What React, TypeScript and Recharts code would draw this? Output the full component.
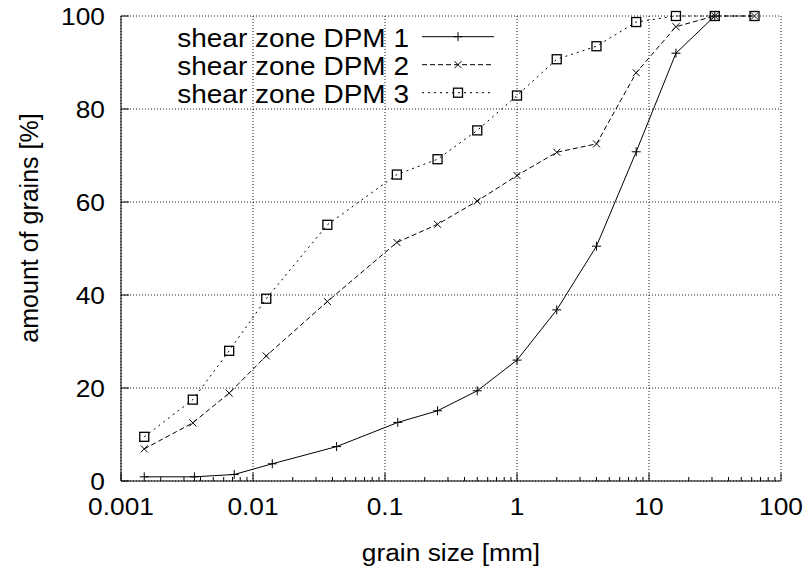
import React from "react";
import { LineChart, Line, XAxis, YAxis, CartesianGrid, Legend } from "recharts";

// grain size [mm] vs. cumulative amount [%]
const sizesDpm1 = [0.0015, 0.0036, 0.0072, 0.014, 0.043, 0.125, 0.25, 0.5, 1, 2, 4, 8, 16, 31.5];
const amountDpm1 = [0.9, 0.9, 1.4, 3.7, 7.4, 12.6, 15.1, 19.4, 26.0, 36.8, 50.5, 70.8, 92.0, 100];

const sizesDpm23 = [0.0015, 0.0035, 0.0066, 0.0126, 0.0366, 0.123, 0.25, 0.5, 1, 2, 4, 8, 16, 31.5, 63];
const amountDpm2 = [6.9, 12.5, 18.9, 26.9, 38.6, 51.3, 55.2, 60.2, 65.7, 70.7, 72.5, 87.8, 97.7, 100, 100];
const amountDpm3 = [9.5, 17.5, 28.0, 39.2, 55.1, 65.9, 69.2, 75.4, 82.9, 90.7, 93.5, 98.7, 100, 100, 100];

const seriesNames = ["shear zone DPM 1", "shear zone DPM 2", "shear zone DPM 3"];

const majorX = [0.001, 0.01, 0.1, 1, 10, 100];
const majorXLabels = ["0.001", "0.01", "0.1", "1", "10", "100"];
const minorSteps = [2, 3, 4, 5, 6, 7, 8, 9];
const yTicks = [0, 20, 40, 60, 80, 100];

const allX = majorX.concat(
  majorX.slice(0, -1).flatMap((d) => minorSteps.map((m) => +(d * m).toPrecision(3)))
);

const toPoints = (xs: number[], ys: number[]) => xs.map((x, i) => ({ x, y: ys[i] }));
const dpm1 = toPoints(sizesDpm1, amountDpm1);
const dpm2 = toPoints(sizesDpm23, amountDpm2);
const dpm3 = toPoints(sizesDpm23, amountDpm3);

const FONT = '"Liberation Sans", Arial, Helvetica, sans-serif';
const FS = 23.5;

// the original text is a bit wider than Arial, so stretch it horizontally
function SText({ x, y, anchor, size = FS, children }: any) {
  return (
    <text
      transform={`translate(${x},${y}) scale(1.12,1)`}
      textAnchor={anchor}
      fontFamily={FONT}
      fontSize={size}
      fill="#000"
    >
      {children}
    </text>
  );
}

// gnuplot-like point types
function marker(kind: string, cx: number, cy: number, key?: any) {
  if (kind === "plus")
    return <path key={key} d={`M${cx - 4.5},${cy}h9M${cx},${cy - 4.5}v9`} stroke="#000" fill="none" />;
  if (kind === "cross")
    return (
      <path key={key} d={`M${cx - 3.5},${cy - 3.5}l7,7M${cx - 3.5},${cy + 3.5}l7,-7`} stroke="#000" fill="none" />
    );
  return (
    <rect key={key} x={cx - 4.5} y={cy - 4.5} width={9} height={9} stroke="#000" strokeWidth={1.3} fill="none" />
  );
}

const dotOf = (kind: string) => (p: any) => marker(kind, p.cx, p.cy, `${kind}-${p.index}`);

const legendRows = [
  { name: seriesNames[0], dash: undefined, kind: "plus" },
  { name: seriesNames[1], dash: "5 3", kind: "cross" },
  { name: seriesNames[2], dash: "2 4", kind: "square" },
];

function LegendBox() {
  return (
    <svg width={340} height={90} style={{ display: "block" }}>
      {legendRows.map((r, i) => {
        const cy = 16.7 + i * 28;
        return (
          <g key={r.name}>
            <SText x={249} y={cy + 10.5} anchor="end" size={25}>
              {r.name}
            </SText>
            <line x1={262} x2={334} y1={cy} y2={cy} stroke="#000" strokeDasharray={r.dash} />
            {marker(r.kind, 298, cy)}
          </g>
        );
      })}
    </svg>
  );
}

function BottomTick(props: any) {
  const { x, y, payload } = props;
  const idx = majorX.indexOf(payload.value);
  const major = idx >= 0;
  return (
    <g>
      <line x1={x} x2={x} y1={y} y2={y - (major ? 8 : 4)} stroke="#000" />
      {major && (
        <SText x={x} y={y + 34} anchor="middle">
          {majorXLabels[idx]}
        </SText>
      )}
    </g>
  );
}

function TopTick(props: any) {
  const { x, y, payload } = props;
  const major = majorX.indexOf(payload.value) >= 0;
  return <line x1={x} x2={x} y1={y} y2={y + (major ? 8 : 4)} stroke="#000" />;
}

function LeftTick(props: any) {
  const { x, y, payload } = props;
  return (
    <g>
      <line x1={x} x2={x + 8} y1={y} y2={y} stroke="#000" />
      <SText x={x - 16} y={y + 8.5} anchor="end">
        {payload.value}
      </SText>
    </g>
  );
}

function RightTick(props: any) {
  const { x, y } = props;
  return <line x1={x} x2={x - 8} y1={y} y2={y} stroke="#000" />;
}

export default function App() {
  return (
    <div style={{ width: 810, height: 573, background: "#fff" }}>
      <style>{"body{margin:0}"}</style>
      <LineChart width={810} height={573} margin={{ top: 16, right: 29, bottom: 0, left: 0 }}>
        <XAxis
          xAxisId="main"
          type="number"
          dataKey="x"
          scale="log"
          domain={[0.001, 100]}
          allowDataOverflow
          ticks={allX}
          interval={0}
          height={92}
          tickSize={0}
          tickMargin={0}
          tickLine={false}
          axisLine={{ stroke: "#000" }}
          tick={<BottomTick />}
          label={{
            content: (p: any) => (
              <SText x={p.viewBox.x + p.viewBox.width / 2} y={561} anchor="middle">
                grain size [mm]
              </SText>
            ),
          }}
        />
        <XAxis
          xAxisId="grid"
          type="number"
          dataKey="x"
          scale="log"
          domain={[0.001, 100]}
          allowDataOverflow
          ticks={majorX}
          height={0}
          hide
        />
        <XAxis
          xAxisId="top"
          orientation="top"
          mirror
          type="number"
          dataKey="x"
          scale="log"
          domain={[0.001, 100]}
          allowDataOverflow
          ticks={allX}
          interval={0}
          height={0}
          tickSize={0}
          tickMargin={0}
          tickLine={false}
          axisLine={{ stroke: "#000" }}
          tick={<TopTick />}
        />
        <YAxis
          yAxisId="left"
          type="number"
          domain={[0, 100]}
          ticks={yTicks}
          interval={0}
          width={121}
          tickSize={0}
          tickMargin={0}
          tickLine={false}
          axisLine={{ stroke: "#000" }}
          tick={<LeftTick />}
          label={{
            content: () => (
              <text
                x={38}
                y={228}
                transform="rotate(-90 38 228)"
                textAnchor="middle"
                fontFamily={FONT}
                fontSize={25}
                fill="#000"
              >
                amount of grains [%]
              </text>
            ),
          }}
        />
        <YAxis
          yAxisId="right"
          orientation="right"
          mirror
          type="number"
          domain={[0, 100]}
          ticks={yTicks}
          interval={0}
          width={0}
          tickSize={0}
          tickMargin={0}
          tickLine={false}
          axisLine={{ stroke: "#000" }}
          tick={<RightTick />}
        />
        <CartesianGrid xAxisId="grid" yAxisId="left" stroke="#000" strokeDasharray="1 2" strokeWidth={0.9} />
        <Legend
          layout="horizontal"
          verticalAlign="middle"
          align="center"
          wrapperStyle={{ top: 20, left: 160, width: 340, height: 90 }}
          content={<LegendBox />}
        />
        <Line
          xAxisId="main"
          yAxisId="left"
          data={dpm1}
          dataKey="y"
          name={seriesNames[0]}
          stroke="#000"
          strokeWidth={1}
          dot={dotOf("plus")}
          isAnimationActive={false}
        />
        <Line
          xAxisId="main"
          yAxisId="left"
          data={dpm2}
          dataKey="y"
          name={seriesNames[1]}
          stroke="#000"
          strokeWidth={1}
          strokeDasharray="5 3"
          dot={dotOf("cross")}
          isAnimationActive={false}
        />
        <Line
          xAxisId="main"
          yAxisId="left"
          data={dpm3}
          dataKey="y"
          name={seriesNames[2]}
          stroke="#000"
          strokeWidth={1}
          strokeDasharray="2 4"
          dot={dotOf("square")}
          isAnimationActive={false}
        />
      </LineChart>
    </div>
  );
}
